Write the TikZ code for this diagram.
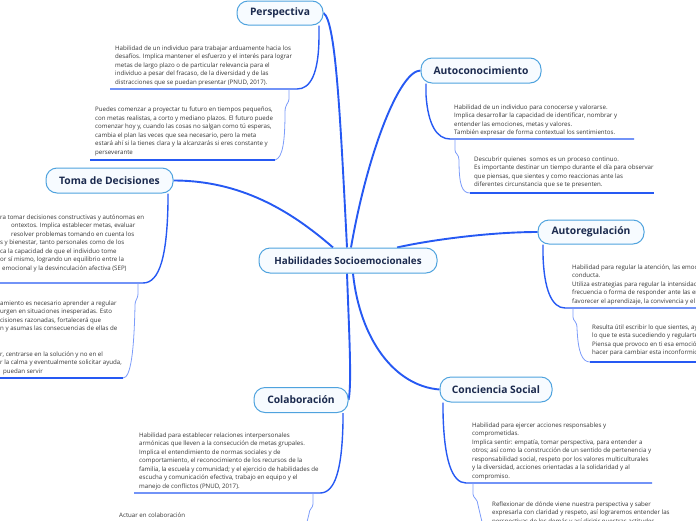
\documentclass[tikz,border=0pt]{standalone}
\usepackage{fontspec}
\setmainfont{Open Sans}
\usetikzlibrary{backgrounds}
\definecolor{mainblue}{HTML}{2659F3}
\definecolor{lightblue}{HTML}{7C9CFA}
\definecolor{boxborder}{HTML}{4FA3DE}
\definecolor{boxfill}{HTML}{F7FBFF}
\definecolor{titlecol}{HTML}{1B2A4E}
\definecolor{textcol}{HTML}{353535}
\newcommand{\dtext}[1]{\parbox[t]{340pt}{\raggedright\fontsize{6.15}{8.5}\selectfont #1}}
\newcommand{\ind}[1]{\leavevmode\kern#1\relax}
\tikzset{
  topic/.style={draw=boxborder, line width=1pt, fill=boxfill, rounded corners=11pt,
    font=\fontsize{10.3}{12}\selectfont\bfseries, text=titlecol, inner sep=0pt},
  detail/.style={inner sep=0pt, anchor=base west, text=textcol},
  mainlink/.style={draw=mainblue, line width=1.9pt},
  sublink/.style={draw=mainblue, line width=1.4pt},
  thinlink/.style={draw=lightblue, line width=0.8pt},
}
\begin{document}
\begin{tikzpicture}[x=1pt,y=-1pt]
\useasboundingbox (0,0) rectangle (696,520);
% topics
\node[topic, minimum width=178, minimum height=25, font=\fontsize{9.8}{12}\selectfont\bfseries] (hs) at (348,260.5) {Habilidades Socioemocionales};
\node[topic, minimum width=86, minimum height=24] (ps) at (280,13) {Perspectiva};
\node[topic, minimum width=120, minimum height=25] (ac) at (481,70.5) {Autoconocimiento};
\node[topic, minimum width=127, minimum height=25] (td) at (109.5,180.5) {Toma de Decisiones};
\node[topic, minimum width=106, minimum height=24] (ar) at (591,232) {Autoregulación};
\node[topic, minimum width=112, minimum height=25] (cs) at (496,389.5) {Conciencia Social};
\node[topic, minimum width=94, minimum height=25] (co) at (301,400) {Colaboración};

% detail texts
\node[detail] (ps1) at (115,50) {\dtext{Habilidad de un individuo para trabajar arduamente hacia los\\
desafíos. Implica mantener el esfuerzo y el interés para lograr\\
metas de largo plazo o de particular relevancia para el\\
individuo a pesar del fracaso, de la diversidad y de las\\
distracciones que se puedan presentar (PNUD, 2017).}};
\node[detail] (ps2) at (95,111.5) {\dtext{Puedes comenzar a proyectar tu futuro en tiempos pequeños,\\
con metas realistas, a corto y mediano plazos. El futuro puede\\
comenzar hoy y, cuando las cosas no salgan como tú esperas,\\
cambia el plan las veces que sea necesario, pero la meta\\
estará ahí si la tienes clara y la alcanzarás si eres constante y\\
perseverante}};
\node[detail] (ac1) at (454,109) {\dtext{Habilidad de un individuo para conocerse y valorarse.\\
Implica desarrollar la capacidad de identificar, nombrar y\\
entender las emociones, metas y valores.\\
También expresar de forma contextual los sentimientos.}};
\node[detail] (ac2) at (474,161) {\dtext{Descubrir quienes\ \ somos es un proceso continuo.\\
Es importante destinar un tiempo durante el día para observar\\
que piensas, que sientes y como reaccionas ante las\\
diferentes circunstancia que se te presenten.}};
\node[detail] (td1) at (0,219) {\dtext{ra tomar decisiones constructivas y autónomas en\\
\ind{11pt}ontextos. Implica establecer metas, evaluar\\
\ind{11pt}resolver problemas tomando en cuenta los\\
s y bienestar, tanto personales como de los\\
ca la capacidad de que el individuo tome\\
or sí mismo, logrando un equilibrio entre la\\
\ind{2pt}emocional y la desvinculación afectiva (SEP)}};
\node[detail] (td2) at (0,305) {\dtext{amiento es necesario aprender a regular\\
urgen en situaciones inesperadas. Esto\\
cisiones razonadas, fortalecerá que\\
n y asumas las consecuencias de ellas de\\
\mbox{}\\
\mbox{}\\
r, centrarse en la solución y no en el\\
r la calma y eventualmente solicitar ayuda,\\
\ind{3pt}puedan servir}};
\node[detail] (ar1) at (572,269) {\dtext{Habilidad para regular la atención, las emoci\\
conducta.\\
Utiliza estrategias para regular la intensidad\\
frecuencia o forma de responder ante las em\\
favorecer el aprendizaje, la convivencia y el l}};
\node[detail] (ar2) at (592,329) {\dtext{Resulta útil escribir lo que sientes, ayu\\
lo que te esta sucediendo y regularte.\\
Piensa que provoco en ti esa emoción\\
hacer para cambiar esta inconformid}};
\node[detail] (cs1) at (472,427) {\dtext{Habilidad para ejercer acciones responsables y\\
comprometidas.\\
Implica sentir: empatía, tomar perspectiva, para entender a\\
otros; así como la construcción de un sentido de pertenencia y\\
responsabilidad social, respeto por los valores multiculturales\\
y la diversidad, acciones orientadas a la solidaridad y al\\
compromiso.}};
\node[detail] (cs2) at (492,506) {\dtext{Reflexionar de dónde viene nuestra perspectiva y saber\\
expresarla con claridad y respeto, así lograremos entender las\\
perspectivas de los demás y así dirigir nuestras actitudes}};
\node[detail] (co1) at (139,437) {\dtext{Habilidad para establecer relaciones interpersonales\\
armónicas que lleven a la consecución de metas grupales.\\
Implica el entendimiento de normas sociales y de\\
comportamiento, el reconocimiento de los recursos de la\\
familia, la escuela y comunidad; y el ejercicio de habilidades de\\
escucha y comunicación efectiva, trabajo en equipo y el\\
manejo de conflictos (PNUD, 2017).}};
\node[detail] (co2) at (119,517) {\dtext{Actuar en colaboración}};

% free ends
\coordinate (tdend1) at (0,283);
\coordinate (tdend2) at (0,378);
\coordinate (arend1) at (696,308);
\coordinate (arend2) at (696,362);
\coordinate (csend2) at (482,522);
\coordinate (coend2) at (307,522);

\begin{pgfonlayer}{background}
% main connectors
\draw[mainlink] ([xshift=-1pt]hs.north) .. controls +(-7,-138) and +(12,8) .. (ps.east);
\draw[mainlink] ([xshift=3pt]hs.north) .. controls (368,150) and (400,70.5) .. (ac.west);
\draw[mainlink] ([xshift=-15pt]hs.north) .. controls (290,210) and (240,180.5) .. (td.east);
\draw[mainlink] ([xshift=49pt]hs.north) .. controls (430,240) and (490,232) .. (ar.west);
\draw[mainlink] ([xshift=5pt]hs.south) .. controls (360,340) and (395,386) .. (cs.west);
\draw[mainlink] ([xshift=-1pt]hs.south) .. controls (349,330) and (352,385) .. (co.east);

% Perspectiva
\draw[sublink] ([xshift=39pt]ps.south) -- (319,35) .. controls (319,75) and (310,89) .. (297,89) -- (110,89);
\draw[thinlink] (289,89) -- (289,99) .. controls (289,103) and (285,104) .. (285,112) .. controls (285,140) and (283,158) .. (275,160);
\draw[sublink] (275,160) -- (90,160);
% Autoconocimiento
\draw[sublink] ([xshift=-55pt]ac.south) -- (426,95) .. controls (428,125) and (437,139) .. (450,139) -- (634,139);
\draw[thinlink] (455,139) -- (455,150) .. controls (455,154) and (459,154) .. (459,160) .. controls (459,185) and (462,193) .. (470,193);
\draw[sublink] (470,193) -- (654,193);
% Toma de decisiones
\draw[sublink] ([xshift=58.5pt]td.south) -- (168,203) .. controls (167,255) and (160,283) .. (143,283) -- (tdend1);
\draw[thinlink] (138,283) -- (138,294) .. controls (138,299) and (135,299) .. (135,306) .. controls (134,350) and (131,378) .. (123,378);
\draw[sublink] (123,378) -- (tdend2);
% Autoregulacion
\draw[sublink] ([xshift=-48pt]ar.south) -- (543,255) .. controls (544,290) and (552,308) .. (565,308) -- (arend1);
\draw[thinlink] (573,308) -- (573,317) .. controls (573,321) and (577,321) .. (577,328) .. controls (578,352) and (582,362) .. (590,362);
\draw[sublink] (590,362) -- (arend2);
% Conciencia social
\draw[sublink] ([xshift=-53pt]cs.south) -- (443,412) .. controls (444,460) and (452,483) .. (466,483) -- (652,483);
\draw[thinlink] (473,483) -- (473,494) .. controls (473,498) and (478,499) .. (478,505) -- (csend2);
% Colaboracion
\draw[sublink] ([xshift=42pt]co.south) -- (343,422) .. controls (342,470) and (335,493) .. (320,493) -- (134,493);
\draw[thinlink] (313,493) -- (313,504) .. controls (313,508) and (309,509) .. (309,514) -- (coend2);
\end{pgfonlayer}
\end{tikzpicture}
\end{document}
